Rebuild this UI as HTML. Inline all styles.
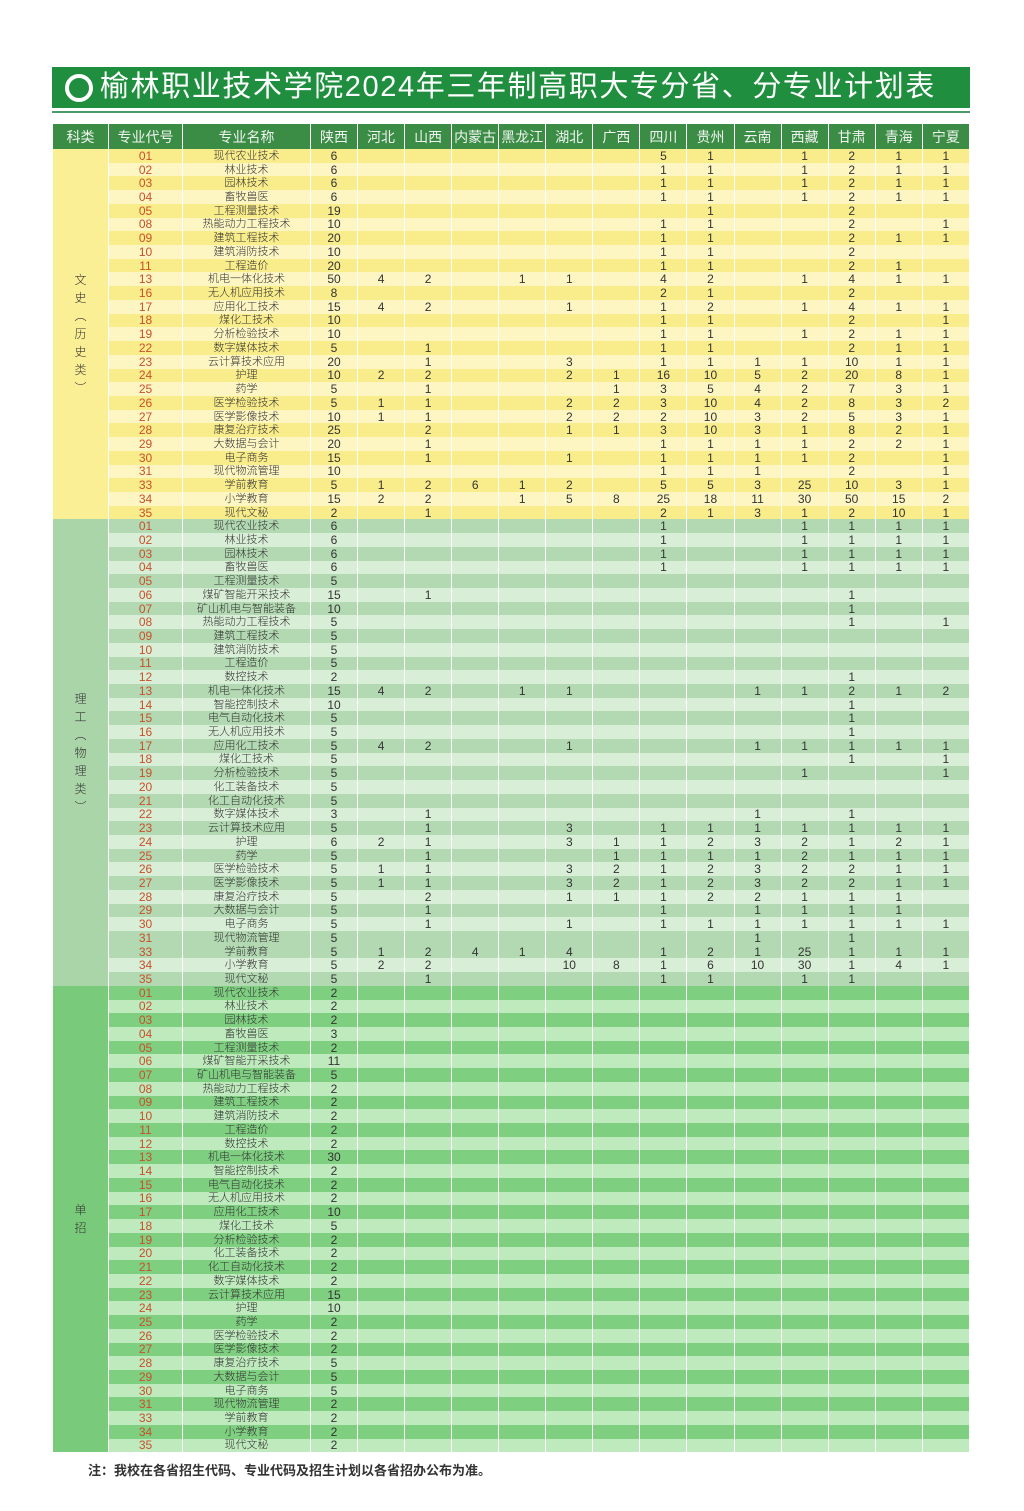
<!DOCTYPE html>
<html><head><meta charset="utf-8">
<style>
*{margin:0;padding:0;box-sizing:border-box}
body{width:1024px;height:1511px;background:#fff;position:relative;font-family:"Liberation Sans","Noto Sans CJK SC",sans-serif;color:#333;overflow:hidden}
.title{position:absolute;left:52px;top:67px;width:918px;height:41px;background:#1f8f3f;color:#fff;font-size:29px;line-height:41px;padding-left:48px;letter-spacing:1.6px;white-space:nowrap;overflow:hidden}
.title .o{position:absolute;left:13px;top:7px;width:28px;height:28px;border:4px solid #fff;border-radius:50%}
.line{position:absolute;left:52px;top:111px;width:918px;height:2px;background:#4a9a6a}
table{position:absolute;left:52px;top:124px;width:918px;border-collapse:collapse;table-layout:fixed}
td,th{padding:0;text-align:center;border-left:1px solid #fff;border-right:1px solid #fff;white-space:nowrap;overflow:hidden}
th{background:#3b8d45;font-weight:normal;font-size:14px;height:25px;color:#f0f4f0}
td{height:13.72px;line-height:12px;font-size:12px;font-weight:300}
td:nth-child(2){font-size:11px}
td.c{color:#c8502a;font-size:12px}
td.c+td{font-size:11px}
.y1 td{background:#f9ec8a}.y2 td{background:#fdf6c3}
.g1 td{background:#b2d9b1}.g2 td{background:#d9eed6}
.h1 td{background:#7fcf81}.h2 td{background:#bfeabd}
td.s{vertical-align:middle;font-size:12px;line-height:18px;color:#333;white-space:normal}
td.s1{background:#fbef95!important}td.s2{background:#a9d5a8!important}td.s3{background:#79cb7b!important}
.note{position:absolute;left:88px;top:1460px;font-size:13px;font-weight:bold;color:#333}
</style></head><body>
<div class="title"><span class="o"></span>榆林职业技术学院2024年三年制高职大专分省、分专业计划表</div>
<div class="line"></div>
<table>
<colgroup><col style="width:56px"><col style="width:74px"><col style="width:128px"><col style="width:47px"><col span="13"></colgroup>
<tr><th>科类</th><th>专业代号</th><th>专业名称</th><th>陕西</th><th>河北</th><th>山西</th><th>内蒙古</th><th>黑龙江</th><th>湖北</th><th>广西</th><th>四川</th><th>贵州</th><th>云南</th><th>西藏</th><th>甘肃</th><th>青海</th><th>宁夏</th></tr>
<tr class="y1"><td class="s s1" rowspan="27">文<br>史<br>︵<br>历<br>史<br>类<br>︶</td><td class="c">01</td><td>现代农业技术</td><td>6</td><td></td><td></td><td></td><td></td><td></td><td></td><td>5</td><td>1</td><td></td><td>1</td><td>2</td><td>1</td><td>1</td></tr>
<tr class="y2"><td class="c">02</td><td>林业技术</td><td>6</td><td></td><td></td><td></td><td></td><td></td><td></td><td>1</td><td>1</td><td></td><td>1</td><td>2</td><td>1</td><td>1</td></tr>
<tr class="y1"><td class="c">03</td><td>园林技术</td><td>6</td><td></td><td></td><td></td><td></td><td></td><td></td><td>1</td><td>1</td><td></td><td>1</td><td>2</td><td>1</td><td>1</td></tr>
<tr class="y2"><td class="c">04</td><td>畜牧兽医</td><td>6</td><td></td><td></td><td></td><td></td><td></td><td></td><td>1</td><td>1</td><td></td><td>1</td><td>2</td><td>1</td><td>1</td></tr>
<tr class="y1"><td class="c">05</td><td>工程测量技术</td><td>19</td><td></td><td></td><td></td><td></td><td></td><td></td><td></td><td>1</td><td></td><td></td><td>2</td><td></td><td></td></tr>
<tr class="y2"><td class="c">08</td><td>热能动力工程技术</td><td>10</td><td></td><td></td><td></td><td></td><td></td><td></td><td>1</td><td>1</td><td></td><td></td><td>2</td><td></td><td>1</td></tr>
<tr class="y1"><td class="c">09</td><td>建筑工程技术</td><td>20</td><td></td><td></td><td></td><td></td><td></td><td></td><td>1</td><td>1</td><td></td><td></td><td>2</td><td>1</td><td>1</td></tr>
<tr class="y2"><td class="c">10</td><td>建筑消防技术</td><td>10</td><td></td><td></td><td></td><td></td><td></td><td></td><td>1</td><td>1</td><td></td><td></td><td>2</td><td></td><td></td></tr>
<tr class="y1"><td class="c">11</td><td>工程造价</td><td>20</td><td></td><td></td><td></td><td></td><td></td><td></td><td>1</td><td>1</td><td></td><td></td><td>2</td><td>1</td><td></td></tr>
<tr class="y2"><td class="c">13</td><td>机电一体化技术</td><td>50</td><td>4</td><td>2</td><td></td><td>1</td><td>1</td><td></td><td>4</td><td>2</td><td></td><td>1</td><td>4</td><td>1</td><td>1</td></tr>
<tr class="y1"><td class="c">16</td><td>无人机应用技术</td><td>8</td><td></td><td></td><td></td><td></td><td></td><td></td><td>2</td><td>1</td><td></td><td></td><td>2</td><td></td><td></td></tr>
<tr class="y2"><td class="c">17</td><td>应用化工技术</td><td>15</td><td>4</td><td>2</td><td></td><td></td><td>1</td><td></td><td>1</td><td>2</td><td></td><td>1</td><td>4</td><td>1</td><td>1</td></tr>
<tr class="y1"><td class="c">18</td><td>煤化工技术</td><td>10</td><td></td><td></td><td></td><td></td><td></td><td></td><td>1</td><td>1</td><td></td><td></td><td>2</td><td></td><td>1</td></tr>
<tr class="y2"><td class="c">19</td><td>分析检验技术</td><td>10</td><td></td><td></td><td></td><td></td><td></td><td></td><td>1</td><td>1</td><td></td><td>1</td><td>2</td><td>1</td><td>1</td></tr>
<tr class="y1"><td class="c">22</td><td>数字媒体技术</td><td>5</td><td></td><td>1</td><td></td><td></td><td></td><td></td><td>1</td><td>1</td><td></td><td></td><td>2</td><td>1</td><td>1</td></tr>
<tr class="y2"><td class="c">23</td><td>云计算技术应用</td><td>20</td><td></td><td>1</td><td></td><td></td><td>3</td><td></td><td>1</td><td>1</td><td>1</td><td>1</td><td>10</td><td>1</td><td>1</td></tr>
<tr class="y1"><td class="c">24</td><td>护理</td><td>10</td><td>2</td><td>2</td><td></td><td></td><td>2</td><td>1</td><td>16</td><td>10</td><td>5</td><td>2</td><td>20</td><td>8</td><td>1</td></tr>
<tr class="y2"><td class="c">25</td><td>药学</td><td>5</td><td></td><td>1</td><td></td><td></td><td></td><td>1</td><td>3</td><td>5</td><td>4</td><td>2</td><td>7</td><td>3</td><td>1</td></tr>
<tr class="y1"><td class="c">26</td><td>医学检验技术</td><td>5</td><td>1</td><td>1</td><td></td><td></td><td>2</td><td>2</td><td>3</td><td>10</td><td>4</td><td>2</td><td>8</td><td>3</td><td>2</td></tr>
<tr class="y2"><td class="c">27</td><td>医学影像技术</td><td>10</td><td>1</td><td>1</td><td></td><td></td><td>2</td><td>2</td><td>2</td><td>10</td><td>3</td><td>2</td><td>5</td><td>3</td><td>1</td></tr>
<tr class="y1"><td class="c">28</td><td>康复治疗技术</td><td>25</td><td></td><td>2</td><td></td><td></td><td>1</td><td>1</td><td>3</td><td>10</td><td>3</td><td>1</td><td>8</td><td>2</td><td>1</td></tr>
<tr class="y2"><td class="c">29</td><td>大数据与会计</td><td>20</td><td></td><td>1</td><td></td><td></td><td></td><td></td><td>1</td><td>1</td><td>1</td><td>1</td><td>2</td><td>2</td><td>1</td></tr>
<tr class="y1"><td class="c">30</td><td>电子商务</td><td>15</td><td></td><td>1</td><td></td><td></td><td>1</td><td></td><td>1</td><td>1</td><td>1</td><td>1</td><td>2</td><td></td><td>1</td></tr>
<tr class="y2"><td class="c">31</td><td>现代物流管理</td><td>10</td><td></td><td></td><td></td><td></td><td></td><td></td><td>1</td><td>1</td><td>1</td><td></td><td>2</td><td></td><td>1</td></tr>
<tr class="y1"><td class="c">33</td><td>学前教育</td><td>5</td><td>1</td><td>2</td><td>6</td><td>1</td><td>2</td><td></td><td>5</td><td>5</td><td>3</td><td>25</td><td>10</td><td>3</td><td>1</td></tr>
<tr class="y2"><td class="c">34</td><td>小学教育</td><td>15</td><td>2</td><td>2</td><td></td><td>1</td><td>5</td><td>8</td><td>25</td><td>18</td><td>11</td><td>30</td><td>50</td><td>15</td><td>2</td></tr>
<tr class="y1"><td class="c">35</td><td>现代文秘</td><td>2</td><td></td><td>1</td><td></td><td></td><td></td><td></td><td>2</td><td>1</td><td>3</td><td>1</td><td>2</td><td>10</td><td>1</td></tr>

<tr class="g1"><td class="s s2" rowspan="34">理<br>工<br>︵<br>物<br>理<br>类<br>︶</td><td class="c">01</td><td>现代农业技术</td><td>6</td><td></td><td></td><td></td><td></td><td></td><td></td><td>1</td><td></td><td></td><td>1</td><td>1</td><td>1</td><td>1</td></tr>
<tr class="g2"><td class="c">02</td><td>林业技术</td><td>6</td><td></td><td></td><td></td><td></td><td></td><td></td><td>1</td><td></td><td></td><td>1</td><td>1</td><td>1</td><td>1</td></tr>
<tr class="g1"><td class="c">03</td><td>园林技术</td><td>6</td><td></td><td></td><td></td><td></td><td></td><td></td><td>1</td><td></td><td></td><td>1</td><td>1</td><td>1</td><td>1</td></tr>
<tr class="g2"><td class="c">04</td><td>畜牧兽医</td><td>6</td><td></td><td></td><td></td><td></td><td></td><td></td><td>1</td><td></td><td></td><td>1</td><td>1</td><td>1</td><td>1</td></tr>
<tr class="g1"><td class="c">05</td><td>工程测量技术</td><td>5</td><td></td><td></td><td></td><td></td><td></td><td></td><td></td><td></td><td></td><td></td><td></td><td></td><td></td></tr>
<tr class="g2"><td class="c">06</td><td>煤矿智能开采技术</td><td>15</td><td></td><td>1</td><td></td><td></td><td></td><td></td><td></td><td></td><td></td><td></td><td>1</td><td></td><td></td></tr>
<tr class="g1"><td class="c">07</td><td>矿山机电与智能装备</td><td>10</td><td></td><td></td><td></td><td></td><td></td><td></td><td></td><td></td><td></td><td></td><td>1</td><td></td><td></td></tr>
<tr class="g2"><td class="c">08</td><td>热能动力工程技术</td><td>5</td><td></td><td></td><td></td><td></td><td></td><td></td><td></td><td></td><td></td><td></td><td>1</td><td></td><td>1</td></tr>
<tr class="g1"><td class="c">09</td><td>建筑工程技术</td><td>5</td><td></td><td></td><td></td><td></td><td></td><td></td><td></td><td></td><td></td><td></td><td></td><td></td><td></td></tr>
<tr class="g2"><td class="c">10</td><td>建筑消防技术</td><td>5</td><td></td><td></td><td></td><td></td><td></td><td></td><td></td><td></td><td></td><td></td><td></td><td></td><td></td></tr>
<tr class="g1"><td class="c">11</td><td>工程造价</td><td>5</td><td></td><td></td><td></td><td></td><td></td><td></td><td></td><td></td><td></td><td></td><td></td><td></td><td></td></tr>
<tr class="g2"><td class="c">12</td><td>数控技术</td><td>2</td><td></td><td></td><td></td><td></td><td></td><td></td><td></td><td></td><td></td><td></td><td>1</td><td></td><td></td></tr>
<tr class="g1"><td class="c">13</td><td>机电一体化技术</td><td>15</td><td>4</td><td>2</td><td></td><td>1</td><td>1</td><td></td><td></td><td></td><td>1</td><td>1</td><td>2</td><td>1</td><td>2</td></tr>
<tr class="g2"><td class="c">14</td><td>智能控制技术</td><td>10</td><td></td><td></td><td></td><td></td><td></td><td></td><td></td><td></td><td></td><td></td><td>1</td><td></td><td></td></tr>
<tr class="g1"><td class="c">15</td><td>电气自动化技术</td><td>5</td><td></td><td></td><td></td><td></td><td></td><td></td><td></td><td></td><td></td><td></td><td>1</td><td></td><td></td></tr>
<tr class="g2"><td class="c">16</td><td>无人机应用技术</td><td>5</td><td></td><td></td><td></td><td></td><td></td><td></td><td></td><td></td><td></td><td></td><td>1</td><td></td><td></td></tr>
<tr class="g1"><td class="c">17</td><td>应用化工技术</td><td>5</td><td>4</td><td>2</td><td></td><td></td><td>1</td><td></td><td></td><td></td><td>1</td><td>1</td><td>1</td><td>1</td><td>1</td></tr>
<tr class="g2"><td class="c">18</td><td>煤化工技术</td><td>5</td><td></td><td></td><td></td><td></td><td></td><td></td><td></td><td></td><td></td><td></td><td>1</td><td></td><td>1</td></tr>
<tr class="g1"><td class="c">19</td><td>分析检验技术</td><td>5</td><td></td><td></td><td></td><td></td><td></td><td></td><td></td><td></td><td></td><td>1</td><td></td><td></td><td>1</td></tr>
<tr class="g2"><td class="c">20</td><td>化工装备技术</td><td>5</td><td></td><td></td><td></td><td></td><td></td><td></td><td></td><td></td><td></td><td></td><td></td><td></td><td></td></tr>
<tr class="g1"><td class="c">21</td><td>化工自动化技术</td><td>5</td><td></td><td></td><td></td><td></td><td></td><td></td><td></td><td></td><td></td><td></td><td></td><td></td><td></td></tr>
<tr class="g2"><td class="c">22</td><td>数字媒体技术</td><td>3</td><td></td><td>1</td><td></td><td></td><td></td><td></td><td></td><td></td><td>1</td><td></td><td>1</td><td></td><td></td></tr>
<tr class="g1"><td class="c">23</td><td>云计算技术应用</td><td>5</td><td></td><td>1</td><td></td><td></td><td>3</td><td></td><td>1</td><td>1</td><td>1</td><td>1</td><td>1</td><td>1</td><td>1</td></tr>
<tr class="g2"><td class="c">24</td><td>护理</td><td>6</td><td>2</td><td>1</td><td></td><td></td><td>3</td><td>1</td><td>1</td><td>2</td><td>3</td><td>2</td><td>1</td><td>2</td><td>1</td></tr>
<tr class="g1"><td class="c">25</td><td>药学</td><td>5</td><td></td><td>1</td><td></td><td></td><td></td><td>1</td><td>1</td><td>1</td><td>1</td><td>2</td><td>1</td><td>1</td><td>1</td></tr>
<tr class="g2"><td class="c">26</td><td>医学检验技术</td><td>5</td><td>1</td><td>1</td><td></td><td></td><td>3</td><td>2</td><td>1</td><td>2</td><td>3</td><td>2</td><td>2</td><td>1</td><td>1</td></tr>
<tr class="g1"><td class="c">27</td><td>医学影像技术</td><td>5</td><td>1</td><td>1</td><td></td><td></td><td>3</td><td>2</td><td>1</td><td>2</td><td>3</td><td>2</td><td>2</td><td>1</td><td>1</td></tr>
<tr class="g2"><td class="c">28</td><td>康复治疗技术</td><td>5</td><td></td><td>2</td><td></td><td></td><td>1</td><td>1</td><td>1</td><td>2</td><td>2</td><td>1</td><td>1</td><td>1</td><td></td></tr>
<tr class="g1"><td class="c">29</td><td>大数据与会计</td><td>5</td><td></td><td>1</td><td></td><td></td><td></td><td></td><td>1</td><td></td><td>1</td><td>1</td><td>1</td><td>1</td><td></td></tr>
<tr class="g2"><td class="c">30</td><td>电子商务</td><td>5</td><td></td><td>1</td><td></td><td></td><td>1</td><td></td><td>1</td><td>1</td><td>1</td><td>1</td><td>1</td><td>1</td><td>1</td></tr>
<tr class="g1"><td class="c">31</td><td>现代物流管理</td><td>5</td><td></td><td></td><td></td><td></td><td></td><td></td><td></td><td></td><td>1</td><td></td><td>1</td><td></td><td></td></tr>
<tr class="g1"><td class="c">33</td><td>学前教育</td><td>5</td><td>1</td><td>2</td><td>4</td><td>1</td><td>4</td><td></td><td>1</td><td>2</td><td>1</td><td>25</td><td>1</td><td>1</td><td>1</td></tr>
<tr class="g2"><td class="c">34</td><td>小学教育</td><td>5</td><td>2</td><td>2</td><td></td><td></td><td>10</td><td>8</td><td>1</td><td>6</td><td>10</td><td>30</td><td>1</td><td>4</td><td>1</td></tr>
<tr class="g1"><td class="c">35</td><td>现代文秘</td><td>5</td><td></td><td>1</td><td></td><td></td><td></td><td></td><td>1</td><td>1</td><td></td><td>1</td><td>1</td><td></td><td></td></tr>

<tr class="h1"><td class="s s3" rowspan="34">单<br>招</td><td class="c">01</td><td>现代农业技术</td><td>2</td><td></td><td></td><td></td><td></td><td></td><td></td><td></td><td></td><td></td><td></td><td></td><td></td><td></td></tr>
<tr class="h2"><td class="c">02</td><td>林业技术</td><td>2</td><td></td><td></td><td></td><td></td><td></td><td></td><td></td><td></td><td></td><td></td><td></td><td></td><td></td></tr>
<tr class="h1"><td class="c">03</td><td>园林技术</td><td>2</td><td></td><td></td><td></td><td></td><td></td><td></td><td></td><td></td><td></td><td></td><td></td><td></td><td></td></tr>
<tr class="h2"><td class="c">04</td><td>畜牧兽医</td><td>3</td><td></td><td></td><td></td><td></td><td></td><td></td><td></td><td></td><td></td><td></td><td></td><td></td><td></td></tr>
<tr class="h1"><td class="c">05</td><td>工程测量技术</td><td>2</td><td></td><td></td><td></td><td></td><td></td><td></td><td></td><td></td><td></td><td></td><td></td><td></td><td></td></tr>
<tr class="h2"><td class="c">06</td><td>煤矿智能开采技术</td><td>11</td><td></td><td></td><td></td><td></td><td></td><td></td><td></td><td></td><td></td><td></td><td></td><td></td><td></td></tr>
<tr class="h1"><td class="c">07</td><td>矿山机电与智能装备</td><td>5</td><td></td><td></td><td></td><td></td><td></td><td></td><td></td><td></td><td></td><td></td><td></td><td></td><td></td></tr>
<tr class="h2"><td class="c">08</td><td>热能动力工程技术</td><td>2</td><td></td><td></td><td></td><td></td><td></td><td></td><td></td><td></td><td></td><td></td><td></td><td></td><td></td></tr>
<tr class="h1"><td class="c">09</td><td>建筑工程技术</td><td>2</td><td></td><td></td><td></td><td></td><td></td><td></td><td></td><td></td><td></td><td></td><td></td><td></td><td></td></tr>
<tr class="h2"><td class="c">10</td><td>建筑消防技术</td><td>2</td><td></td><td></td><td></td><td></td><td></td><td></td><td></td><td></td><td></td><td></td><td></td><td></td><td></td></tr>
<tr class="h1"><td class="c">11</td><td>工程造价</td><td>2</td><td></td><td></td><td></td><td></td><td></td><td></td><td></td><td></td><td></td><td></td><td></td><td></td><td></td></tr>
<tr class="h2"><td class="c">12</td><td>数控技术</td><td>2</td><td></td><td></td><td></td><td></td><td></td><td></td><td></td><td></td><td></td><td></td><td></td><td></td><td></td></tr>
<tr class="h1"><td class="c">13</td><td>机电一体化技术</td><td>30</td><td></td><td></td><td></td><td></td><td></td><td></td><td></td><td></td><td></td><td></td><td></td><td></td><td></td></tr>
<tr class="h2"><td class="c">14</td><td>智能控制技术</td><td>2</td><td></td><td></td><td></td><td></td><td></td><td></td><td></td><td></td><td></td><td></td><td></td><td></td><td></td></tr>
<tr class="h1"><td class="c">15</td><td>电气自动化技术</td><td>2</td><td></td><td></td><td></td><td></td><td></td><td></td><td></td><td></td><td></td><td></td><td></td><td></td><td></td></tr>
<tr class="h2"><td class="c">16</td><td>无人机应用技术</td><td>2</td><td></td><td></td><td></td><td></td><td></td><td></td><td></td><td></td><td></td><td></td><td></td><td></td><td></td></tr>
<tr class="h1"><td class="c">17</td><td>应用化工技术</td><td>10</td><td></td><td></td><td></td><td></td><td></td><td></td><td></td><td></td><td></td><td></td><td></td><td></td><td></td></tr>
<tr class="h2"><td class="c">18</td><td>煤化工技术</td><td>5</td><td></td><td></td><td></td><td></td><td></td><td></td><td></td><td></td><td></td><td></td><td></td><td></td><td></td></tr>
<tr class="h1"><td class="c">19</td><td>分析检验技术</td><td>2</td><td></td><td></td><td></td><td></td><td></td><td></td><td></td><td></td><td></td><td></td><td></td><td></td><td></td></tr>
<tr class="h2"><td class="c">20</td><td>化工装备技术</td><td>2</td><td></td><td></td><td></td><td></td><td></td><td></td><td></td><td></td><td></td><td></td><td></td><td></td><td></td></tr>
<tr class="h1"><td class="c">21</td><td>化工自动化技术</td><td>2</td><td></td><td></td><td></td><td></td><td></td><td></td><td></td><td></td><td></td><td></td><td></td><td></td><td></td></tr>
<tr class="h2"><td class="c">22</td><td>数字媒体技术</td><td>2</td><td></td><td></td><td></td><td></td><td></td><td></td><td></td><td></td><td></td><td></td><td></td><td></td><td></td></tr>
<tr class="h1"><td class="c">23</td><td>云计算技术应用</td><td>15</td><td></td><td></td><td></td><td></td><td></td><td></td><td></td><td></td><td></td><td></td><td></td><td></td><td></td></tr>
<tr class="h2"><td class="c">24</td><td>护理</td><td>10</td><td></td><td></td><td></td><td></td><td></td><td></td><td></td><td></td><td></td><td></td><td></td><td></td><td></td></tr>
<tr class="h1"><td class="c">25</td><td>药学</td><td>2</td><td></td><td></td><td></td><td></td><td></td><td></td><td></td><td></td><td></td><td></td><td></td><td></td><td></td></tr>
<tr class="h2"><td class="c">26</td><td>医学检验技术</td><td>2</td><td></td><td></td><td></td><td></td><td></td><td></td><td></td><td></td><td></td><td></td><td></td><td></td><td></td></tr>
<tr class="h1"><td class="c">27</td><td>医学影像技术</td><td>2</td><td></td><td></td><td></td><td></td><td></td><td></td><td></td><td></td><td></td><td></td><td></td><td></td><td></td></tr>
<tr class="h2"><td class="c">28</td><td>康复治疗技术</td><td>5</td><td></td><td></td><td></td><td></td><td></td><td></td><td></td><td></td><td></td><td></td><td></td><td></td><td></td></tr>
<tr class="h1"><td class="c">29</td><td>大数据与会计</td><td>5</td><td></td><td></td><td></td><td></td><td></td><td></td><td></td><td></td><td></td><td></td><td></td><td></td><td></td></tr>
<tr class="h2"><td class="c">30</td><td>电子商务</td><td>5</td><td></td><td></td><td></td><td></td><td></td><td></td><td></td><td></td><td></td><td></td><td></td><td></td><td></td></tr>
<tr class="h1"><td class="c">31</td><td>现代物流管理</td><td>2</td><td></td><td></td><td></td><td></td><td></td><td></td><td></td><td></td><td></td><td></td><td></td><td></td><td></td></tr>
<tr class="h2"><td class="c">33</td><td>学前教育</td><td>2</td><td></td><td></td><td></td><td></td><td></td><td></td><td></td><td></td><td></td><td></td><td></td><td></td><td></td></tr>
<tr class="h1"><td class="c">34</td><td>小学教育</td><td>2</td><td></td><td></td><td></td><td></td><td></td><td></td><td></td><td></td><td></td><td></td><td></td><td></td><td></td></tr>
<tr class="h2"><td class="c">35</td><td>现代文秘</td><td>2</td><td></td><td></td><td></td><td></td><td></td><td></td><td></td><td></td><td></td><td></td><td></td><td></td><td></td></tr>
</table>
<div class="note">注：我校在各省招生代码、专业代码及招生计划以各省招办公布为准。</div>
</body></html>
